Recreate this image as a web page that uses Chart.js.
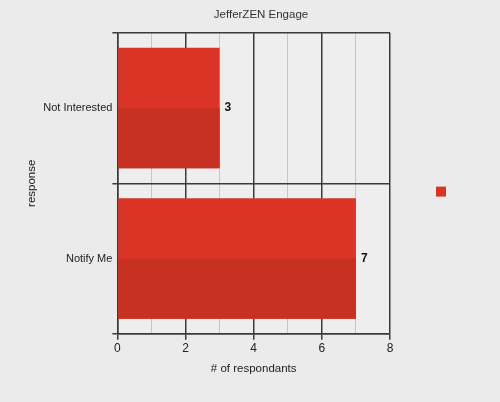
<!DOCTYPE html>
<html>
<head>
<meta charset="utf-8">
<script src="https://cdn.jsdelivr.net/npm/chart.js@4/dist/chart.umd.min.js"></script>
<style>
  html, body { margin: 0; padding: 0; background: #ebebeb; }
  #wrap { width: 500px; height: 402px; }
</style>
</head>
<body>
<div id="wrap"><canvas id="grafico" width="500" height="402"></canvas></div>
<script>
// ===============================
//   Dados
// ===============================
const respostas = ["Not Interested", "Notify Me"];
const quantidades = [3, 7];
const tituloGrafico = "JefferZEN Engage";
const tituloX = "# of respondants";
const tituloY = "response";

const corTopo = "#d93425";
const corBase = "#c73122";
const corEscura = "#3a3a3a";
const corClara = "#c6c6c6";
const fonte = "'Liberation Sans', Arial, sans-serif";

// fundo da area do grafico + metade de baixo das barras mais escura
const pluginFundo = {
  id: "fundo",
  beforeDraw(chart) {
    const { ctx, chartArea: a } = chart;
    ctx.save();
    ctx.fillStyle = "#eeeeee";
    ctx.fillRect(a.left, a.top, a.right - a.left, a.bottom - a.top);
    ctx.restore();
  },
  afterDatasetsDraw(chart) {
    const { ctx } = chart;
    const meta = chart.getDatasetMeta(0);
    ctx.save();
    meta.data.forEach((el, i) => {
      const p = el.getProps(["x", "y", "base", "height"], true);
      ctx.fillStyle = corBase;
      ctx.fillRect(p.base, p.y, p.x - p.base, p.height / 2);
      // rotulo do valor
      ctx.fillStyle = "#111";
      ctx.font = "bold 12px " + fonte;
      ctx.textAlign = "left";
      ctx.textBaseline = "middle";
      ctx.fillText(String(quantidades[i]), p.x + 5, p.y);
    });
    ctx.restore();
  }
};

new Chart(document.getElementById("grafico"), {
  type: "bar",
  data: {
    labels: respostas,
    datasets: [{
      label: "",
      data: quantidades,
      backgroundColor: corTopo,
      borderWidth: 0,
      barPercentage: 0.8,
      categoryPercentage: 1
    }]
  },
  options: {
    indexAxis: "y",
    responsive: false,
    animation: false,
    layout: { padding: { top: 0, right: 0, bottom: 26, left: 22 } },
    plugins: {
      title: {
        display: true,
        text: tituloGrafico,
        color: "#333",
        font: { family: fonte, size: 11.5, weight: "normal" },
        padding: { top: 8, bottom: 11 }
      },
      legend: {
        position: "right",
        title: { display: true, text: " ", padding: 0, font: { size: 6 } },
        labels: {
          boxWidth: 10,
          boxHeight: 10,
          padding: 46,
          font: { size: 88 }
        }
      },
      tooltip: { enabled: false }
    },
    scales: {
      x: {
        min: 0,
        max: 8,
        ticks: {
          stepSize: 1,
          color: "#222",
          font: { family: fonte, size: 12 },
          padding: 2,
          callback: (v) => (v % 2 === 0 ? v : "")
        },
        grid: {
          color: (c) => (c.tick && c.tick.value % 2 === 0 ? corEscura : corClara),
          lineWidth: (c) => (c.tick && c.tick.value % 2 === 0 ? 1.5 : 1),
          tickColor: (c) => (c.tick && c.tick.value % 2 === 0 ? corEscura : "rgba(0,0,0,0)"),
          tickLength: 6
        },
        border: { color: corEscura, width: 1.5 },
        title: {
          display: true,
          text: tituloX,
          color: "#222",
          font: { family: fonte, size: 11.5 },
          padding: { top: 4, bottom: 0 }
        }
      },
      y: {
        offset: true,
        ticks: {
          color: "#222",
          font: { family: fonte, size: 11 },
          padding: 0
        },
        grid: {
          offset: true,
          color: corEscura,
          lineWidth: 1.5,
          tickLength: 5
        },
        border: { color: corEscura, width: 1.5 },
        title: {
          display: true,
          text: tituloY,
          color: "#222",
          font: { family: fonte, size: 11.5 },
          padding: { top: 3, bottom: 4.5 }
        }
      }
    }
  },
  plugins: [pluginFundo]
});
</script>
</body>
</html>
